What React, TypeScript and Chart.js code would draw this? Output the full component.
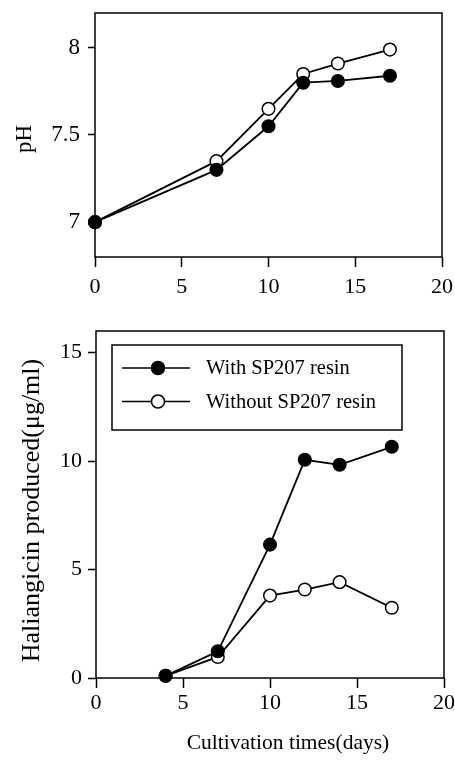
import React, { useEffect, useRef } from "react";
import { Chart, registerables } from "chart.js";

Chart.register(...registerables);

// ---- data ----
const PH_DAYS = [0, 7, 10, 12, 14, 17];
const PH_WITH = [7.0, 7.3, 7.55, 7.8, 7.81, 7.84];
const PH_WITHOUT = [7.0, 7.35, 7.65, 7.85, 7.91, 7.99];

const PROD_DAYS = [4, 7, 10, 12, 14, 17];
const PROD_WITH = [0.1, 1.23, 6.15, 10.06, 9.83, 10.66];
const PROD_WITHOUT = [0.1, 0.97, 3.8, 4.08, 4.42, 3.24];

const X_TICKS = [0, 5, 10, 15, 20];
const PH_TICKS = [7, 7.5, 8];
const PROD_TICKS = [0, 5, 10, 15];

const SERIES_LABELS = ["With SP207 resin", "Without SP207 resin"];
const X_TITLE = "Cultivation times(days)";
const PH_TITLE = "pH";
const PROD_TITLE = "Haliangicin produced(\u03bcg/ml)";

const FONT = "'Liberation Serif', 'Times New Roman', serif";

const framePlugin = {
  id: "frame",
  beforeDatasetsDraw(chart: any) {
    const { ctx, chartArea: a } = chart;
    ctx.save();
    ctx.strokeStyle = "#000";
    ctx.lineWidth = 1.5;
    ctx.strokeRect(a.left, a.top, a.right - a.left, a.bottom - a.top);
    ctx.restore();
  },
};

// titles placed relative to the chart area
type TitleSpec = { text: string; size: number; dx: number; dy: number; vertical: boolean; anchor: "xaxis" | "yaxis" };
function makeTitlePlugin(items: TitleSpec[]) {
  return {
    id: "axisTitles",
    afterDraw(chart: any) {
      const { ctx, chartArea: a } = chart;
      ctx.save();
      ctx.fillStyle = "#000";
      ctx.textAlign = "center";
      ctx.textBaseline = "middle";
      items.forEach((t) => {
        ctx.font = `${t.size}px ${FONT}`;
        if (t.anchor === "xaxis") {
          ctx.fillText(t.text, (a.left + a.right) / 2 + t.dx, a.bottom + t.dy);
        } else {
          ctx.save();
          ctx.translate(a.left + t.dx, (a.top + a.bottom) / 2 + t.dy);
          ctx.rotate(-Math.PI / 2);
          ctx.fillText(t.text, 0, 0);
          ctx.restore();
        }
      });
      ctx.restore();
    },
  };
}

const boxLegendPlugin = {
  id: "boxLegend",
  afterDatasetsDraw(chart: any) {
    const { ctx, chartArea: a } = chart;
    const bx = a.left + 16;
    const by = a.top + 14;
    const bw = 290;
    const bh = 85;
    ctx.save();
    ctx.fillStyle = "#fff";
    ctx.fillRect(bx, by, bw, bh);
    ctx.strokeStyle = "#000";
    ctx.lineWidth = 1.5;
    ctx.strokeRect(bx, by, bw, bh);
    const rows = [37, 70.5];
    chart.data.datasets.forEach((ds: any, i: number) => {
      const y = a.top + rows[i];
      ctx.beginPath();
      ctx.strokeStyle = "#000";
      ctx.lineWidth = 1.5;
      ctx.moveTo(bx + 10, y);
      ctx.lineTo(bx + 78, y);
      ctx.stroke();
      ctx.beginPath();
      ctx.arc(bx + 46, y, 6.5, 0, Math.PI * 2);
      ctx.fillStyle = ds.pointBackgroundColor;
      ctx.fill();
      ctx.lineWidth = 1.5;
      ctx.stroke();
      ctx.fillStyle = "#000";
      ctx.font = `20.5px ${FONT}`;
      ctx.textAlign = "left";
      ctx.textBaseline = "middle";
      ctx.fillText(ds.label, bx + 94, y + 1);
    });
    ctx.restore();
  },
};

function makeDatasets(days: number[], withVals: number[], withoutVals: number[]) {
  const common = {
    borderColor: "#000",
    borderWidth: 1.8,
    pointRadius: 6.3,
    pointBorderColor: "#000",
    pointBorderWidth: 1.5,
    tension: 0,
    clip: false as const,
  };
  return [
    {
      ...common,
      label: SERIES_LABELS[0],
      data: days.map((d, i) => ({ x: d, y: withVals[i] })),
      pointBackgroundColor: "#000",
      backgroundColor: "#000",
    },
    {
      ...common,
      label: SERIES_LABELS[1],
      data: days.map((d, i) => ({ x: d, y: withoutVals[i] })),
      pointBackgroundColor: "#fff",
      backgroundColor: "#fff",
    },
  ];
}

type Cfg = {
  padTop: number;
  padRight: number;
  yWidth: number;
  xHeight: number;
  xPad: number;
  yMin: number;
  yMax: number;
  yTicks: number[];
  yTickLen: number;
  yPad: number;
  yTickSize: number;
};

function makeOptions(c: Cfg): any {
  return {
    responsive: false,
    maintainAspectRatio: false,
    animation: false,
    layout: { padding: { left: 0, right: c.padRight, top: c.padTop, bottom: 0 } },
    plugins: { legend: { display: false }, tooltip: { enabled: false } },
    scales: {
      x: {
        type: "linear",
        min: 0,
        max: 20,
        afterBuildTicks: (s: any) => {
          s.ticks = X_TICKS.map((v) => ({ value: v }));
        },
        afterFit: (s: any) => {
          s.height = c.xHeight;
          s.paddingLeft = 0;
          s.paddingRight = 0;
        },
        grid: {
          display: true,
          drawOnChartArea: false,
          drawTicks: true,
          tickLength: 10,
          tickColor: "#000",
          tickWidth: 1.5,
          color: "#000",
        },
        border: { display: false },
        ticks: {
          color: "#000",
          font: { family: FONT, size: 22, lineHeight: 1 },
          padding: c.xPad,
          maxRotation: 0,
          autoSkip: false,
          callback: (v: any) => String(v),
        },
      },
      y: {
        type: "linear",
        min: c.yMin,
        max: c.yMax,
        afterBuildTicks: (s: any) => {
          s.ticks = c.yTicks.map((v) => ({ value: v }));
        },
        afterFit: (s: any) => {
          s.width = c.yWidth;
          s.paddingTop = 0;
          s.paddingBottom = 0;
        },
        grid: {
          display: true,
          drawOnChartArea: false,
          drawTicks: true,
          tickLength: c.yTickLen,
          tickColor: "#000",
          tickWidth: 1.5,
          color: "#000",
        },
        border: { display: false },
        ticks: {
          color: "#000",
          font: { family: FONT, size: c.yTickSize, lineHeight: 1 },
          padding: c.yPad,
          autoSkip: false,
          callback: (v: any) => String(v),
        },
      },
    },
  };
}

function PlotCanvas(props: {
  width: number;
  height: number;
  top: number;
  build: (canvas: HTMLCanvasElement) => Chart;
}) {
  const ref = useRef<HTMLCanvasElement | null>(null);
  useEffect(() => {
    if (!ref.current) return;
    const chart = props.build(ref.current);
    return () => chart.destroy();
  }, []);
  return (
    <canvas
      ref={ref}
      width={props.width}
      height={props.height}
      style={{
        position: "absolute",
        left: 0,
        top: props.top,
        width: props.width,
        height: props.height,
      }}
    />
  );
}

export default function App() {
  const buildPh = (canvas: HTMLCanvasElement) =>
    new Chart(canvas, {
      type: "line",
      data: { datasets: makeDatasets(PH_DAYS, PH_WITH, PH_WITHOUT) as any },
      options: makeOptions({
        padTop: 13,
        padRight: 13,
        yWidth: 95,
        xHeight: 43,
        xPad: 9,
        yMin: 6.8,
        yMax: 8.2,
        yTicks: PH_TICKS,
        yTickLen: 7,
        yPad: 8,
        yTickSize: 23,
      }),
      plugins: [
        framePlugin,
        makeTitlePlugin([{ text: PH_TITLE, size: 23, dx: -70, dy: 4, vertical: true, anchor: "yaxis" }]),
      ],
    });

  const buildProd = (canvas: HTMLCanvasElement) =>
    new Chart(canvas, {
      type: "line",
      data: { datasets: makeDatasets(PROD_DAYS, PROD_WITH, PROD_WITHOUT) as any },
      options: makeOptions({
        padTop: 31,
        padRight: 11,
        yWidth: 96,
        xHeight: 84,
        xPad: 4,
        yMin: 0,
        yMax: 16,
        yTicks: PROD_TICKS,
        yTickLen: 8,
        yPad: 6,
        yTickSize: 22,
      }),
      plugins: [
        framePlugin,
        boxLegendPlugin,
        makeTitlePlugin([
          { text: PROD_TITLE, size: 26, dx: -64, dy: 6, vertical: true, anchor: "yaxis" },
          { text: X_TITLE, size: 21.5, dx: 18, dy: 65, vertical: false, anchor: "xaxis" },
        ]),
      ],
    });

  return (
    <div
      style={{
        position: "absolute",
        left: 0,
        top: 0,
        width: 455,
        height: 762,
        background: "#fff",
      }}
    >
      <PlotCanvas width={455} height={300} top={0} build={buildPh} />
      <PlotCanvas width={455} height={462} top={300} build={buildProd} />
    </div>
  );
}
